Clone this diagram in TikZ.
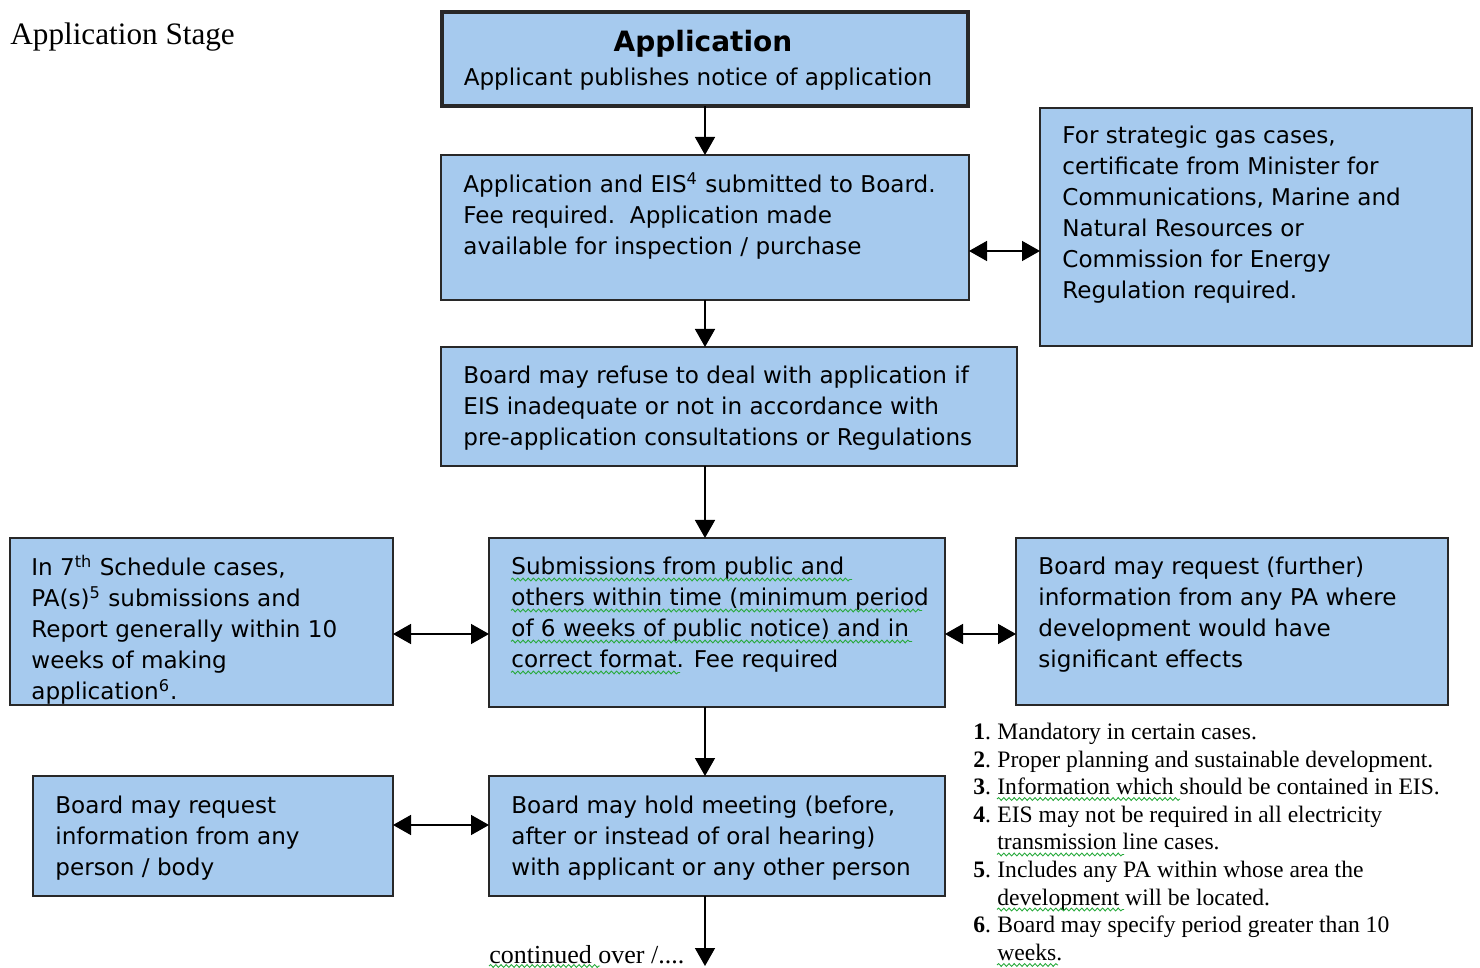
\documentclass[tikz,border=0pt]{standalone}
\usepackage{fontspec}
\setmainfont{Liberation Serif}
\newfontfamily\dvs{DejaVu Sans}
\usetikzlibrary{arrows.meta,decorations.pathmorphing}
\definecolor{boxblue}{RGB}{166,202,238}
\definecolor{edgecol}{RGB}{40,40,40}
\definecolor{squig}{RGB}{40,170,60}
\newcommand\fstrut{\rule{0pt}{10pt}}
\begin{document}
\begin{tikzpicture}[x=0.5pt,y=-0.5pt,
  box/.style={draw=edgecol, line width=0.75pt, fill=boxblue, anchor=north west, inner sep=0pt, outer sep=0pt},
  txt/.style={anchor=north west, inner sep=0pt, align=left, font=\dvs\fontsize{11.55}{15.5}\selectfont},
  tip/.tip={Triangle[length=9pt,width=10pt]},
  arr/.style={draw=black, line width=0.75pt, -tip},
  darr/.style={draw=black, line width=0.75pt, tip-tip},
  wavy/.style={draw=squig, line width=0.45pt, decorate, decoration={snake, amplitude=0.7pt, segment length=2.6pt}},
  note/.style={anchor=north west, inner sep=0pt, align=left, font=\fontsize{11.8}{13.8}\selectfont}]
\useasboundingbox (0,0) rectangle (1480,968);

% boxes
\node[box, line width=2.2pt, minimum width=263pt, minimum height=47pt] (app) at (442,12) {};
\node[box, minimum width=264pt, minimum height=72.5pt] (sub) at (441,155) {};
\node[box, minimum width=216pt, minimum height=119pt] (gas) at (1040,108) {};
\node[box, minimum width=288pt, minimum height=59.5pt] (refuse) at (441,347) {};
\node[box, minimum width=191.5pt, minimum height=83.5pt] (sched) at (10,538) {};
\node[box, minimum width=228pt, minimum height=84.5pt] (public) at (489,538) {};
\node[box, minimum width=216pt, minimum height=83.5pt] (further) at (1016,538) {};
\node[box, minimum width=180pt, minimum height=60pt] (anyperson) at (33,776) {};
\node[box, minimum width=228pt, minimum height=60pt] (meeting) at (489,776) {};

% texts
\node[anchor=base west, inner sep=0pt, font=\fontsize{15.6}{18}\selectfont] (stage) at (10,45) {Application Stage};
\node[anchor=base, inner sep=0pt, font=\dvs\bfseries\fontsize{14}{16}\selectfont] (apptitle) at (703,52) {Application};
\node[anchor=base, inner sep=0pt, font=\dvs\fontsize{11.55}{15.5}\selectfont] (appsub) at (698,86) {Applicant publishes notice of application};
\node[txt] (subtxt) at (463,172) {\fstrut Application and EIS\textsuperscript{4} submitted to Board.\\Fee required.\ \ Application made\\available for inspection / purchase};
\node[txt] (gastxt) at (1062,123.5) {\fstrut For strategic gas cases,\\certificate from Minister for\\Communications, Marine and\\Natural Resources or\\Commission for Energy\\Regulation required.};
\node[txt] (refusetxt) at (463,363.5) {\fstrut Board may refuse to deal with application if\\EIS inadequate or not in accordance with\\pre-application consultations or Regulations};
\node[txt] (schedtxt) at (31,554.5) {\fstrut In 7\textsuperscript{th} Schedule cases,\\PA(s)\textsuperscript{5} submissions and\\Report generally within 10\\weeks of making\\application\textsuperscript{6}.};
\node[txt] (publictxt) at (511,554.5) {\fstrut Submissions from public and\\others within time (minimum period\\of 6 weeks of public notice) and in\\correct format. Fee required};
\node[txt] (furthertxt) at (1038,554.5) {\fstrut Board may request (further)\\information from any PA where\\development would have\\significant effects};
\node[txt] (anypersontxt) at (55,793.5) {\fstrut Board may request\\information from any\\person / body};
\node[txt] (meetingtxt) at (511,793.5) {\fstrut Board may hold meeting (before,\\after or instead of oral hearing)\\with applicant or any other person};
\node[note] (notes) at (973,719) {\fstrut\makebox[12pt][l]{\textbf{1}.}Mandatory in certain cases.\\
\makebox[12pt][l]{\textbf{2}.}Proper planning and sustainable development.\\
\makebox[12pt][l]{\textbf{3}.}Information which should be contained in EIS.\\
\makebox[12pt][l]{\textbf{4}.}EIS may not be required in all electricity\\
\hspace*{12pt}transmission line cases.\\
\makebox[12pt][l]{\textbf{5}.}Includes any PA within whose area the\\
\hspace*{12pt}development will be located.\\
\makebox[12pt][l]{\textbf{6}.}Board may specify period greater than 10\\
\hspace*{12pt}weeks.};
\node[anchor=base west, inner sep=0pt, font=\fontsize{13}{15}\selectfont] (cont) at (489,963) {continued over /....};

% connectors
\coordinate (ax) at (705,0);
\coordinate (h1) at (0,251);
\coordinate (h2) at (0,634);
\coordinate (h3) at (0,825);
\coordinate (endc) at (705,966);
\draw[arr] (app.south) -- (sub.north);
\draw[arr] (ax |- sub.south) -- (ax |- refuse.north);
\draw[arr] (ax |- refuse.south) -- (ax |- public.north);
\draw[arr] (ax |- public.south) -- (ax |- meeting.north);
\draw[arr] (ax |- meeting.south) -- (endc);
\draw[darr] (sub.east |- h1) -- (gas.west |- h1);
\draw[darr] (sched.east |- h2) -- (public.west |- h2);
\draw[darr] (public.east |- h2) -- (further.west |- h2);
\draw[darr] (anyperson.east |- h3) -- (meeting.west |- h3);

% spelling squiggles
\draw[wavy] (511,579.5) -- (852,579.5);
\draw[wavy] (511,610.5) -- (922,610.5);
\draw[wavy] (511,641.5) -- (912,641.5);
\draw[wavy] (511,672.5) -- (680,672.5);
\draw[wavy] (997,799) -- (1180,799);
\draw[wavy] (997,854.5) -- (1124,854.5);
\draw[wavy] (997,909.5) -- (1124,909.5);
\draw[wavy] (997,965) -- (1058,965);
\draw[wavy] (489,966) -- (600,966);
\end{tikzpicture}
\end{document}
